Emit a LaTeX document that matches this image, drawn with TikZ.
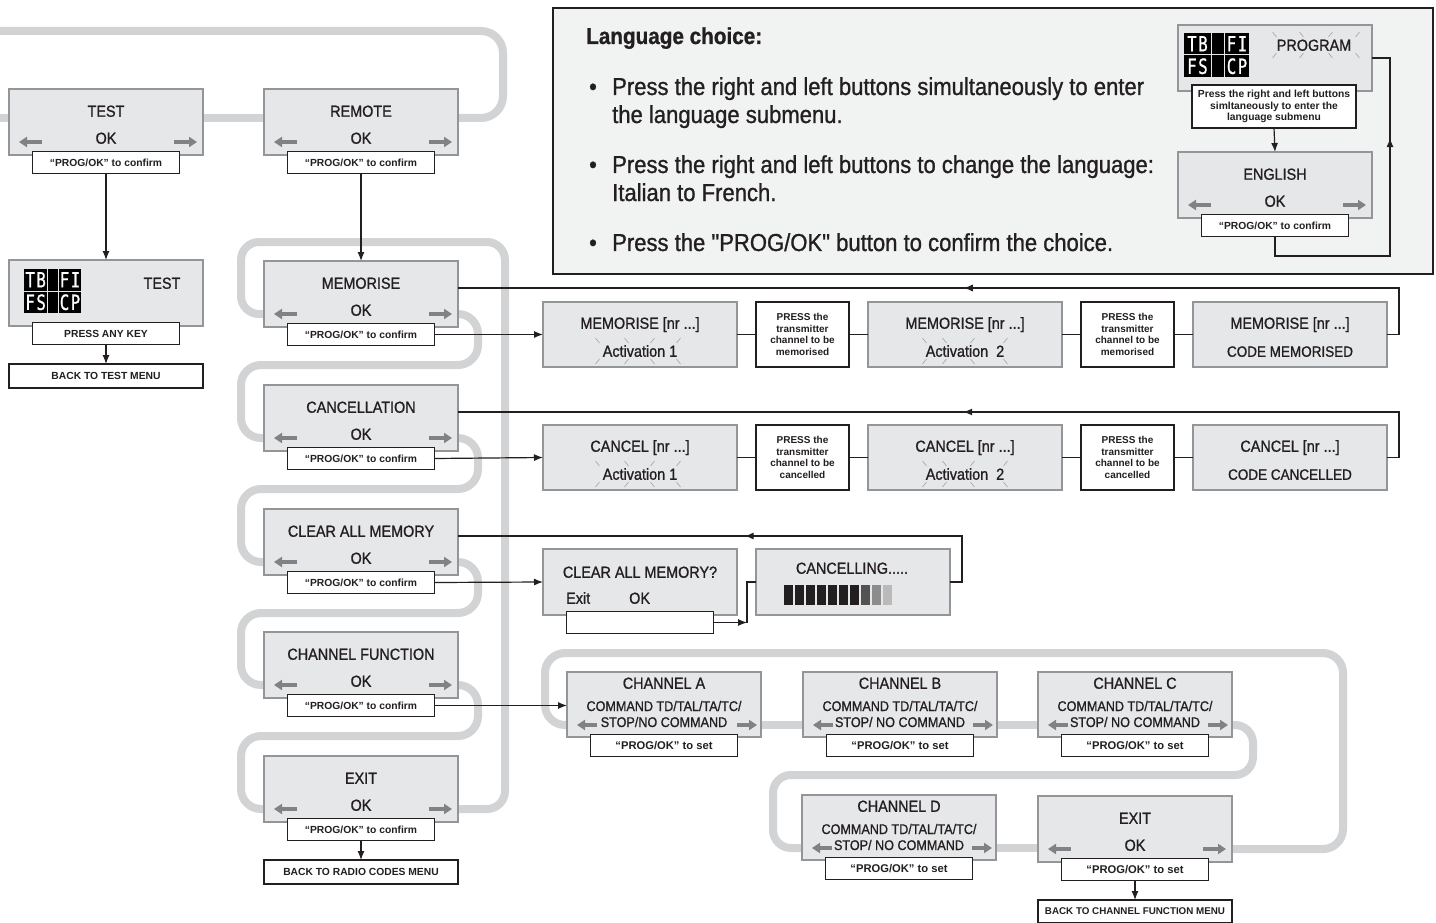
\documentclass[tikz,border=0pt]{standalone}
\usepackage{fontspec}
\setmainfont{Liberation Sans}[FakeStretch=0.9, FakeBold=1.0, Ligatures=TeXOff]
\newfontfamily\lblf{Liberation Sans}
\newfontfamily\lcdf{DejaVu Sans Mono}[FakeStretch=0.75, FakeBold=0.8]
\usetikzlibrary{arrows.meta,calc,decorations.markings}
\definecolor{ink}{HTML}{231F20}
\definecolor{boxfill}{HTML}{E6E7E8}
\definecolor{boxborder}{HTML}{939598}
\definecolor{bandgray}{HTML}{D1D3D4}
\definecolor{arrowgray}{HTML}{808285}
\definecolor{langfill}{HTML}{F1F2F2}
\definecolor{tickgray}{HTML}{9D9FA2}
\tikzset{
 disp/.style={draw=boxborder, fill=boxfill, line width=1.3pt, minimum width=194pt, minimum height=66pt, inner sep=0pt, outer sep=0pt},
 lbl/.style={draw=ink, fill=white, line width=1.3pt, minimum width=147pt, minimum height=22.5pt, inner sep=0pt, outer sep=0pt, text=ink, font=\lblf\bfseries\fontsize{10.3}{12}\selectfont},
 pbox/.style={draw=ink, fill=white, line width=1.3pt, minimum width=93pt, minimum height=65pt, inner sep=0pt, outer sep=0pt, align=center, text=ink, font=\lblf\bfseries\fontsize{10}{11.7}\selectfont},
 ttl/.style={inner sep=0pt, text=ink, text height=11.5pt, text depth=0pt, font=\fontsize{16}{19}\selectfont},
 cmd/.style={inner sep=0pt, text=ink, text height=10pt, text depth=0pt, font=\fontsize{14}{16}\selectfont},
 band/.style={draw=bandgray, line width=8pt, rounded corners=20pt},
 garrow/.style={draw=arrowgray, line width=3.5pt, -{Triangle[length=8pt,width=10pt]}},
 conn/.style={draw=ink, line width=1.2pt},
 arr/.style={conn, -{Latex[length=9pt,width=7pt]}},
 tick/.style={draw=tickgray, line width=0.6pt},
 lcdcell/.style={fill=black, inner sep=0pt, outer sep=0pt, minimum height=21.5pt, text=white, font=\lcdf\fontsize{21}{21}\selectfont},
 midarrow/.style={postaction={decorate,decoration={markings,mark=at position #1 with {\arrow{Latex[length=9pt,width=7pt]}}}}},
 lngtxt/.style={anchor=base west, inner sep=0pt, text=ink, font=\fontsize{24.5}{28}\selectfont},
 bul/.style={anchor=base, inner sep=0pt, text=ink, font=\fontsize{24.5}{28}\selectfont},
}
% menu item: name, x, y, title, second line, label
\newcommand{\menuitem}[6]{%
 \node[disp, anchor=north west] (#1) at (#2,#3) {};
 \node[ttl] (#1-t) at ($(#1.north)+(0,22)$) {#4};
 \node[ttl] (#1-o) at ($(#1.north)+(0,49)$) {#5};
 \draw[garrow] ($(#1.north west)+(33,53)$) -- ($(#1.north west)+(10,53)$);
 \draw[garrow] ($(#1.north east)+(-29,53)$) -- ($(#1.north east)+(-6,53)$);
 \node[lbl] (#1-l) at ($(#1.south)+(0,7.5)$) {#6};
}
% row box: name, x, y, line1, line2
\newcommand{\rowbox}[5]{%
 \node[disp, anchor=north west, minimum height=65pt] (#1) at (#2,#3) {};
 \node[ttl] (#1-a) at ($(#1.north)+(0,21)$) {#4};
 \node[ttl] (#1-b) at ($(#1.north)+(0,49)$) {#5};
}
% channel box: name, x, y, letter, stop line
\newcommand{\chbox}[5]{%
 \node[disp, anchor=north west, minimum height=65pt] (#1) at (#2,#3) {};
 \node[ttl] (#1-t) at ($(#1.north)+(0,11)$) {CHANNEL #4};
 \node[cmd] (#1-c) at ($(#1.north)+(0,34)$) {COMMAND TD/TAL/TA/TC/};
 \node[cmd] (#1-s) at ($(#1.north)+(0,50)$) {#5};
 \draw[garrow] ($(#1.north west)+(30,53)$) -- ($(#1.north west)+(10,53)$);
 \draw[garrow] ($(#1.north east)+(-24,53)$) -- ($(#1.north east)+(-4,53)$);
 \node[lbl] (#1-l) at ($(#1.south)+(0,8.5)$) {\fontsize{11.2}{13}\selectfont “PROG/OK” to set};
}
% lcd row: name, x, y, w1, w2, w3, left text, right text
\newcommand{\lcdrow}[8]{%
 \node[lcdcell, minimum width=#4, anchor=north west] (#1a) at (#2,#3) {#7};
 \node[lcdcell, minimum width=#5, anchor=north west] (#1b) at ($(#1a.north east)+(1,0)$) {};
 \node[lcdcell, minimum width=#6, anchor=north west] (#1c) at ($(#1b.north east)+(1,0)$) {#8};
}
% blinking ticks: cx, cy, two left offsets, two right offsets
\newcommand{\blink}[6]{%
 \foreach \d in {#3,#4} {
   \draw[tick] (#1+\d-2.5,#2-13) -- (#1+\d+1.5,#2-8);
   \draw[tick] (#1+\d-2.5,#2+13) -- (#1+\d+1.5,#2+8);
 }
 \foreach \d in {#5,#6} {
   \draw[tick] (#1+\d+2.5,#2-13) -- (#1+\d-1.5,#2-8);
   \draw[tick] (#1+\d+2.5,#2+13) -- (#1+\d-1.5,#2+8);
 }
}
\begin{document}
\begin{tikzpicture}[x=1pt,y=-1pt]
\useasboundingbox (0,0) rectangle (1436,923);
\fill[white] (0,0) rectangle (1436,923);

% ---------- grey navigation bands ----------
\draw[band] (-10,118) -- (20,118);
\draw[band] (190,118) -- (280,118);
\draw[band, rounded corners=22pt] (440,118) -| (503,31) -- (-10,31);
\draw[band, rounded corners=18pt] (272,314) -| (241,242) -| (505,809) -- (450,809);
\foreach \a/\b in {261/385, 385/509, 509/632, 632/756} {
  \draw[band] (450,\a+53) -| (478,\a+104) -| (241,\b+53) -- (272,\b+53);
}
\draw[band] (575,725) -| (545,653) -| (1343,849) -- (1225,849);
\draw[band] (755,725) -- (810,725);
\draw[band] (990,725) -- (1045,725);
\draw[band, rounded corners=18pt] (1225,725) -| (1253,775) -| (773,848) -- (810,848);
\draw[band] (990,848) -- (1045,848);

% ---------- language box ----------
\node[draw=ink, fill=langfill, line width=2pt, anchor=north west, minimum width=880pt, minimum height=266pt, inner sep=0pt] (lang) at (552,7) {};
\node[anchor=base west, inner sep=0pt, text=ink, font=\bfseries\fontsize{23}{27}\selectfont] (lang-h) at (586,44) {Language choice:};
\node[bul] (b1) at (593,95) {•};
\node[lngtxt] (l1a) at (612,95) {Press the right and left buttons simultaneously to enter};
\node[lngtxt] (l1b) at (612,123) {the language submenu.};
\node[bul] (b2) at (593,173) {•};
\node[lngtxt] (l2a) at (612,173) {Press the right and left buttons to change the language:};
\node[lngtxt] (l2b) at (612,201) {Italian to French.};
\node[bul] (b3) at (593,251) {•};
\node[lngtxt] (l3a) at (612,251) {Press the "PROG/OK" button to confirm the choice.};

\node[disp, anchor=north west] (prog) at (1178,25) {};
\lcdrow{pgA}{1184}{33}{27}{12}{24}{T\kern1.5pt B}{F\kern1.5pt I}
\lcdrow{pgB}{1184}{55.5}{27}{12}{24}{F\kern1.5pt S}{C\kern1.5pt P}
\node[ttl] (prog-t) at (1314,45) {PROGRAM};
\blink{1314}{45}{-39}{-12}{16}{43}
\node[lbl, minimum width=164pt, minimum height=43pt, align=center, font=\lblf\bfseries\fontsize{10.3}{11.5}\selectfont] (prog-l) at (1274,106.5) {Press the right and left buttons\\simltaneously to enter the\\language submenu};
\menuitem{eng}{1178}{152}{ENGLISH}{OK}{“PROG/OK” to confirm}
\draw[arr] (prog-l.south) -- (eng.north);
\coordinate (lr1) at (1390,256);
\draw[conn, midarrow=0.72] (eng-l.south) |- (lr1) |- (prog.east);

% ---------- left column ----------
\menuitem{test}{9}{89}{TEST}{OK}{“PROG/OK” to confirm}
\menuitem{remote}{264}{89}{REMOTE}{OK}{“PROG/OK” to confirm}
\menuitem{mem}{264}{261}{MEMORISE}{OK}{“PROG/OK” to confirm}
\menuitem{canc}{264}{385}{CANCELLATION}{OK}{“PROG/OK” to confirm}
\menuitem{clr}{264}{509}{CLEAR ALL MEMORY}{OK}{“PROG/OK” to confirm}
\menuitem{chf}{264}{632}{CHANNEL FUNCTION}{OK}{“PROG/OK” to confirm}
\menuitem{exit}{264}{756}{EXIT}{OK}{“PROG/OK” to confirm}

\node[disp, anchor=north west] (testd) at (9,260) {};
\lcdrow{tdA}{24}{269}{23.3}{9.7}{22}{T\kern1.5pt B}{F\kern1.5pt I}
\lcdrow{tdB}{24}{291.5}{23.3}{9.7}{22}{F\kern1.5pt S}{C\kern1.5pt P}
\node[ttl] (testd-t) at (162,283) {TEST};
\node[lbl] (testd-l) at ($(testd.south)+(0,7.5)$) {PRESS ANY KEY};
\node[lbl, minimum width=194pt, minimum height=24pt] (backtest) at (106,376) {BACK TO TEST MENU};
\node[lbl, minimum width=194pt, minimum height=24pt] (backradio) at (361,872) {BACK TO RADIO CODES MENU};

\draw[arr] (test-l.south) -- (testd.north);
\draw[arr] (testd-l.south) -- (backtest.north);
\draw[arr] (remote-l.south) -- (mem.north);
\draw[arr] (exit-l.south) -- (backradio.north);

% ---------- memorise row ----------
\rowbox{mr1}{543}{302}{MEMORISE [nr ...]}{Activation 1}
\node[pbox, anchor=north west] (mp1) at (756,302) {PRESS the\\transmitter\\channel to be\\memorised};
\rowbox{mr2}{868}{302}{MEMORISE [nr ...]}{Activation\ \ 2}
\node[pbox, anchor=north west] (mp2) at (1081,302) {PRESS the\\transmitter\\channel to be\\memorised};
\rowbox{mr3}{1193}{302}{MEMORISE [nr ...]}{\fontsize{15}{18}\selectfont CODE MEMORISED}
\blink{640}{351}{-42}{-13}{12}{38}
\blink{965}{351}{-40}{-20}{7}{40}
\draw[conn] (mr1.east) -- (mp1.west);
\draw[conn] (mp1.east) -- (mr2.west);
\draw[conn] (mr2.east) -- (mp2.west);
\draw[conn] (mp2.east) -- (mr3.west);
\draw[arr] (mem-l.east) -- (mr1.west);
\coordinate (mret) at (1399,288);
\draw[conn, midarrow=0.494] (mr3.east) -| (mret) -- (mem.east |- mret);

% ---------- cancel row ----------
\rowbox{cr1}{543}{425}{CANCEL [nr ...]}{Activation 1}
\node[pbox, anchor=north west] (cp1) at (756,425) {PRESS the\\transmitter\\channel to be\\cancelled};
\rowbox{cr2}{868}{425}{CANCEL [nr ...]}{Activation\ \ 2}
\node[pbox, anchor=north west] (cp2) at (1081,425) {PRESS the\\transmitter\\channel to be\\cancelled};
\rowbox{cr3}{1193}{425}{CANCEL [nr ...]}{\fontsize{15}{18}\selectfont CODE CANCELLED}
\blink{640}{474}{-42}{-13}{12}{38}
\blink{965}{474}{-40}{-20}{7}{40}
\draw[conn] (cr1.east) -- (cp1.west);
\draw[conn] (cp1.east) -- (cr2.west);
\draw[conn] (cr2.east) -- (cp2.west);
\draw[conn] (cp2.east) -- (cr3.west);
\draw[arr] (canc-l.east) -- (cr1.west);
\coordinate (cret) at (1399,412);
\draw[conn, midarrow=0.494] (cr3.east) -| (cret) -- (canc.east |- cret);

% ---------- clear all memory ----------
\node[disp, anchor=north west] (cq) at (543,549) {};
\node[ttl] (cq-t) at ($(cq.north)+(0,23)$) {CLEAR ALL MEMORY?};
\node[ttl, anchor=west] (cq-x) at (566,598) {Exit};
\node[ttl, anchor=west] (cq-o) at (629,598) {OK};
\node[lbl] (cq-l) at ($(cq.south)+(0,7.5)$) {};
\node[disp, anchor=north west] (cg) at (756,549) {};
\node[ttl] (cg-t) at (852,568) {CANCELLING.....};
\foreach \i in {0,...,6} { \fill[ink] (784+11*\i,585) rectangle ++(9,20); }
\fill[black!68] (861,585) rectangle ++(9,20);
\fill[black!45] (872,585) rectangle ++(9,20);
\fill[black!27] (883,585) rectangle ++(9,20);
\draw[arr] (clr-l.east) -- (cq.west);
\coordinate (cj) at (747,622.5);
\draw[arr] (cq-l.east) -- (cj);
\draw[conn] (cj) |- (cg.west);
\coordinate (clret) at (962,536);
\draw[conn, midarrow=0.49] (cg.east) -| (clret) -- (clr.east |- clret);

% ---------- channel function ----------
\chbox{cha}{567}{672}{A}{STOP/NO COMMAND}
\chbox{chb}{803}{672}{B}{STOP/ NO COMMAND}
\chbox{chc}{1038}{672}{C}{STOP/ NO COMMAND}
\chbox{chd}{802}{795}{D}{STOP/ NO COMMAND}
\menuitem{chx}{1038}{796}{EXIT}{OK}{\fontsize{11.2}{13}\selectfont “PROG/OK” to set}
\node[lbl, minimum width=194pt, minimum height=23pt, font=\lblf\bfseries\fontsize{9.8}{11}\selectfont] (backch) at (1135,911.5) {BACK TO CHANNEL FUNCTION MENU};
\draw[arr] (chx-l.south) -- (backch.north);
\draw[arr] (chf-l.east) -- (chf-l.east -| cha.west);
\end{tikzpicture}
\end{document}
